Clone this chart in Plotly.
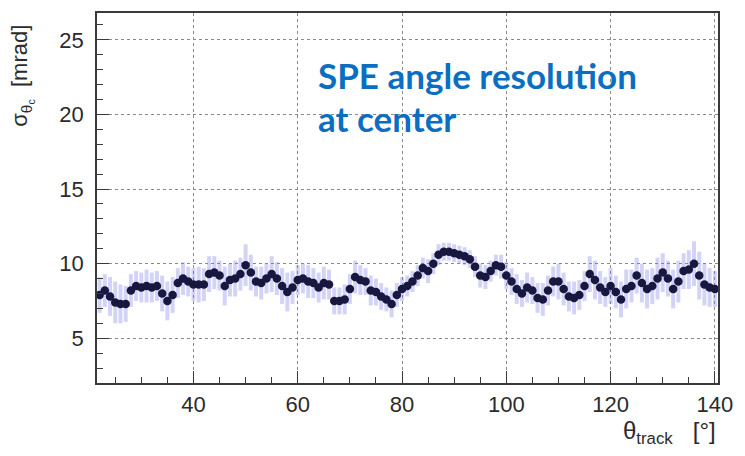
import plotly.graph_objects as go

# Track polar angle [deg]
theta_track = list(range(22, 141))

# Single-photon Cherenkov angle resolution [mrad]
sigma_theta_c = [
    7.9, 8.2, 7.8, 7.4, 7.3, 7.3, 8.2, 8.5, 8.4, 8.5,   # 22-31
    8.4, 8.5, 8.0, 7.5, 7.9, 8.7, 9.0, 8.8, 8.6, 8.6,   # 32-41
    8.6, 9.3, 9.4, 9.2, 8.5, 8.9, 9.0, 9.3, 9.9, 9.4,   # 42-51
    8.8, 8.7, 9.0, 9.3, 9.0, 8.5, 8.1, 8.4, 8.9, 9.0,   # 52-61
    8.8, 8.7, 8.4, 8.7, 8.6, 7.5, 7.5, 7.6, 8.3, 9.1,   # 62-71
    8.9, 8.8, 8.2, 8.1, 7.8, 7.6, 7.3, 7.9, 8.3, 8.5,   # 72-81
    8.8, 9.2, 9.7, 9.5, 10.0, 10.6, 10.8, 10.8, 10.7, 10.6,  # 82-91
    10.5, 10.3, 9.8, 9.2, 9.1, 9.5, 9.9, 9.8, 9.2, 8.8,  # 92-101
    8.3, 8.0, 8.4, 8.2, 7.7, 7.6, 8.2, 8.8, 8.8, 8.3,   # 102-111
    7.8, 7.7, 7.9, 8.5, 9.3, 8.9, 8.4, 8.1, 8.5, 8.1,   # 112-121
    7.6, 8.3, 8.5, 9.2, 8.7, 8.3, 8.5, 9.0, 9.4, 9.0,   # 122-131
    8.3, 8.8, 9.5, 9.6, 10.0, 9.2, 8.6, 8.4, 8.3,       # 132-140
]

# Statistical uncertainty on each resolution value [mrad]
sigma_err = [
    1.2, 1.1, 1.3, 1.4, 1.3, 1.2, 1.1, 1.0, 1.0, 1.1,
    1.0, 1.0, 1.2, 1.3, 1.2, 1.0, 1.1, 1.0, 1.1, 1.2,
    1.1, 1.2, 1.1, 1.0, 1.3, 1.1, 1.2, 1.1, 1.4, 1.2,
    1.0, 1.1, 1.0, 1.2, 1.1, 1.2, 1.3, 1.1, 1.0, 1.0,
    1.1, 1.0, 1.0, 1.1, 1.0, 0.9, 0.9, 1.0, 1.0, 1.1,
    1.0, 0.9, 1.0, 0.9, 0.9, 0.8, 0.9, 0.8, 0.8, 0.7,
    0.7, 0.7, 0.7, 0.8, 0.7, 0.7, 0.6, 0.6, 0.6, 0.6,
    0.6, 0.6, 0.7, 0.8, 0.8, 0.7, 0.7, 0.8, 0.9, 0.9,
    1.0, 0.9, 1.0, 0.9, 1.0, 1.1, 1.0, 1.0, 1.2, 1.1,
    1.0, 1.1, 1.0, 1.0, 1.2, 1.3, 1.1, 1.0, 1.2, 1.1,
    1.2, 1.3, 1.1, 1.2, 1.3, 1.3, 1.2, 1.4, 1.3, 1.2,
    1.3, 1.4, 1.2, 1.3, 1.5, 1.6, 1.4, 1.3, 1.2,
]

x_ticks = [40, 60, 80, 100, 120, 140]
y_ticks = [5, 10, 15, 20, 25]

tick_font = dict(family="Liberation Sans, Arial, sans-serif", size=22, color="#2b2b2b")

fig = go.Figure()
fig.add_trace(go.Scatter(
    x=theta_track,
    y=sigma_theta_c,
    mode="markers",
    marker=dict(size=8.5, color="#17173f"),
    error_y=dict(type="data", array=sigma_err, visible=True,
                 color="rgba(120,120,230,0.33)", thickness=4, width=0),
    showlegend=False,
))

axis_common = dict(
    showline=True, linecolor="#3a3a3a", linewidth=1.5, mirror=True,
    ticks="inside", ticklen=12, tickcolor="#3a3a3a", tickwidth=1,
    showgrid=True, gridcolor="#8a8a8a", griddash="dot", gridwidth=1,
    zeroline=False, tickfont=tick_font,
)

fig.update_xaxes(
    range=[21.5, 140.6], tickvals=x_ticks, ticktext=[str(v) for v in x_ticks],
    minor=dict(ticks="inside", ticklen=6, dtick=5, tick0=0, tickcolor="#3a3a3a", showgrid=False),
    ticklabelstandoff=1,
    **axis_common,
)
fig.update_yaxes(
    range=[2.0, 26.8], tickvals=y_ticks, ticktext=[str(v) for v in y_ticks],
    minor=dict(ticks="inside", ticklen=6, dtick=1, tick0=0, tickcolor="#3a3a3a", showgrid=False),
    ticklabelstandoff=7,
    **axis_common,
)

# Axis titles
fig.add_annotation(
    text="θ<sub>track</sub>   [°]", xref="paper", yref="paper",
    x=1.0, y=-0.135, xanchor="right", yanchor="middle", showarrow=False,
    font=dict(family="Liberation Sans, Arial, sans-serif", size=24, color="#2b2b2b"),
)
fig.add_annotation(
    text="σ<sub>θ<sub>c</sub></sub>  [mrad]", xref="paper", yref="paper",
    x=-0.121, y=0.83, xanchor="center", yanchor="middle", textangle=-90, showarrow=False,
    font=dict(family="Liberation Sans, Arial, sans-serif", size=22, color="#2b2b2b"),
)

# Plot label
label_font = dict(family="Lato, Open Sans, sans-serif", size=35, color="#0a6fc2")
fig.add_annotation(
    text="<b>SPE angle resolution</b>", xref="paper", yref="paper",
    x=0.352, y=0.832, xanchor="left", yanchor="middle", showarrow=False, font=label_font,
)
fig.add_annotation(
    text="<b>at center</b>", xref="paper", yref="paper",
    x=0.352, y=0.716, xanchor="left", yanchor="middle", showarrow=False, font=label_font,
)

fig.update_layout(
    width=745, height=456,
    margin=dict(l=97, r=27, t=13, b=73),
    paper_bgcolor="white", plot_bgcolor="white",
)

fig.write_html("out.html")
